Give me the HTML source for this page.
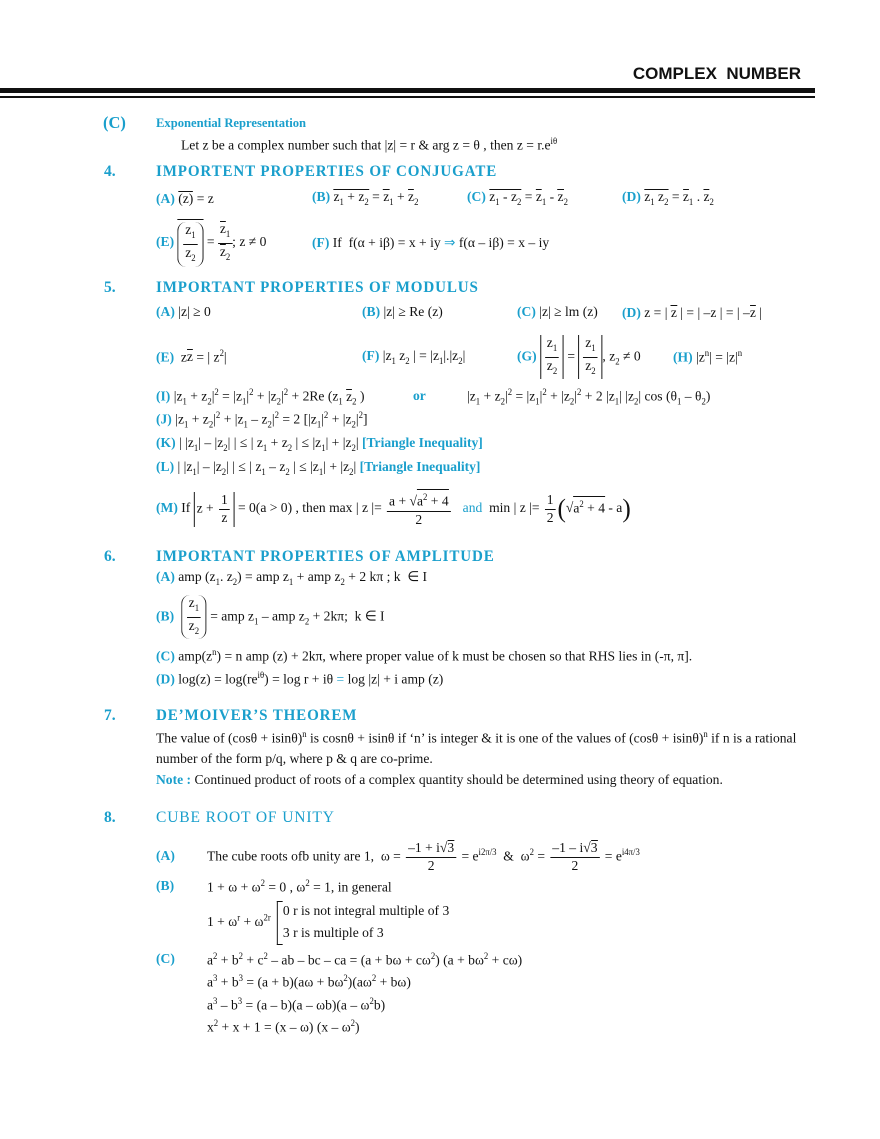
<!DOCTYPE html>
<html><head><meta charset="utf-8">
<style>
body{margin:0;width:880px;height:1139px;background:#fff;position:relative;overflow:hidden;font-family:"Liberation Serif",serif;color:#111}
.l{position:absolute;height:44px;margin-top:-22px;display:flex;align-items:center;white-space:nowrap;font-size:14px;transform:scaleX(.97);transform-origin:0 50%}
.c{color:#1a9fcc;font-weight:bold}
.cn{color:#1a9fcc}
.h{color:#1a9fcc;font-weight:bold;font-size:15.5px;letter-spacing:0.9px}
.n{font-weight:bold;font-size:16px;color:#1a9fcc}
.fr{display:inline-flex;flex-direction:column;vertical-align:middle;text-align:center;line-height:17px;margin:0 2px}
.fr>span:first-child{border-bottom:1px solid #111;padding:0 2px}
.ol{display:inline-block;border-top:1px solid #111;line-height:13px;padding-top:1px}
sub,sup{font-size:9px}
.par{display:inline-block;vertical-align:middle;border-left:1.3px solid #111;border-right:1.3px solid #111;border-radius:9px;padding:0 3px}
.abs{display:inline-block;vertical-align:middle;border-left:1px solid #111;border-right:1px solid #111;padding:0 2px}
</style></head><body>
<div style="position:absolute;right:79px;top:64px;font:bold 17px 'Liberation Sans',sans-serif">COMPLEX&nbsp; NUMBER</div>
<div style="position:absolute;left:0;top:88px;width:815px;height:5px;background:#111"></div>
<div style="position:absolute;left:0;top:96px;width:815px;height:1.5px;background:#111"></div>

<div class="l" style="top:123px;left:103px"><span class="n" style="font-size:17px">(C)</span></div>
<div class="l" style="top:123px;left:156px"><span class="c" style="font-size:13px">Exponential Representation</span></div>
<div class="l" style="top:145px;left:181px"><span>Let z be a complex number such that |z| = r &amp; arg z = θ , then z = r.e<sup>iθ</sup></span></div>

<div class="l" style="top:172px;left:104px"><span class="n">4.</span></div>
<div class="l" style="top:172px;left:156px"><span class="h">IMPORTENT PROPERTIES OF CONJUGATE</span></div>
<div class="l" style="top:199px;left:156px"><span><b class="cn">(A)</b> <span class="ol">(z)</span> = z</span></div>
<div class="l" style="top:199px;left:312px"><span><b class="cn">(B)</b> <span class="ol">z<sub>1</sub> + z<sub>2</sub></span> = <span class="ol">z</span><sub>1</sub> + <span class="ol">z</span><sub>2</sub></span></div>
<div class="l" style="top:199px;left:467px"><span><b class="cn">(C)</b> <span class="ol">z<sub>1</sub> - z<sub>2</sub></span> = <span class="ol">z</span><sub>1</sub> - <span class="ol">z</span><sub>2</sub></span></div>
<div class="l" style="top:199px;left:622px"><span><b class="cn">(D)</b> <span class="ol">z<sub>1</sub> z<sub>2</sub></span> = <span class="ol">z</span><sub>1</sub> . <span class="ol">z</span><sub>2</sub></span></div>
<div class="l" style="top:243px;left:156px"><span><b class="cn">(E)</b> <span style="display:inline-block;vertical-align:middle;border-top:1px solid #111;padding-top:2px"><span class="par"><span class="fr"><span>z<sub>1</sub></span><span>z<sub>2</sub></span></span></span></span> = <span class="fr" style="margin:0"><span><span class="ol">z</span><sub>1</sub></span><span><span class="ol">z</span><sub>2</sub></span></span>; z ≠ 0</span></div>
<div class="l" style="top:243px;left:312px"><span><b class="cn">(F)</b> If&nbsp; f(α + iβ) = x + iy <span class="cn">⇒</span> f(α – iβ) = x – iy</span></div>

<div class="l" style="top:288px;left:104px"><span class="n">5.</span></div>
<div class="l" style="top:288px;left:156px"><span class="h">IMPORTANT PROPERTIES OF MODULUS</span></div>
<div class="l" style="top:313px;left:156px"><span><b class="cn">(A)</b> |z| ≥ 0</span></div>
<div class="l" style="top:313px;left:362px"><span><b class="cn">(B)</b> |z| ≥ Re (z)</span></div>
<div class="l" style="top:313px;left:517px"><span><b class="cn">(C)</b> |z| ≥ lm (z)</span></div>
<div class="l" style="top:313px;left:622px"><span><b class="cn">(D)</b> z = | <span class="ol">z</span> | = | –z | = | –<span class="ol">z</span> |</span></div>
<div class="l" style="top:357px;left:156px"><span><b class="cn">(E)</b>&nbsp; z<span class="ol">z</span> = | z<sup>2</sup>|</span></div>
<div class="l" style="top:357px;left:362px"><span><b class="cn">(F)</b> |z<sub>1</sub> z<sub>2</sub> | = |z<sub>1</sub>|.|z<sub>2</sub>|</span></div>
<div class="l" style="top:357px;left:517px"><span><b class="cn">(G)</b> <span class="abs"><span class="fr"><span>z<sub>1</sub></span><span>z<sub>2</sub></span></span></span> = <span class="abs"><span class="fr"><span>z<sub>1</sub></span><span>z<sub>2</sub></span></span></span>, z<sub>2</sub> ≠ 0</span></div>
<div class="l" style="top:357px;left:673px"><span><b class="cn">(H)</b> |z<sup>n</sup>| = |z|<sup>n</sup></span></div>
<div class="l" style="top:397px;left:156px"><span><b class="cn">(I)</b> |z<sub>1</sub> + z<sub>2</sub>|<sup>2</sup> = |z<sub>1</sub>|<sup>2</sup> + |z<sub>2</sub>|<sup>2</sup> + 2Re (z<sub>1</sub> <span class="ol">z</span><sub>2</sub> )</span></div>
<div class="l" style="top:397px;left:413px"><span class="c">or</span></div>
<div class="l" style="top:397px;left:467px"><span>|z<sub>1</sub> + z<sub>2</sub>|<sup>2</sup> = |z<sub>1</sub>|<sup>2</sup> + |z<sub>2</sub>|<sup>2</sup> + 2 |z<sub>1</sub>| |z<sub>2</sub>| cos (θ<sub>1</sub> – θ<sub>2</sub>)</span></div>
<div class="l" style="top:420px;left:156px"><span><b class="cn">(J)</b> |z<sub>1</sub> + z<sub>2</sub>|<sup>2</sup> + |z<sub>1</sub> – z<sub>2</sub>|<sup>2</sup> = 2 [|z<sub>1</sub>|<sup>2</sup> + |z<sub>2</sub>|<sup>2</sup>]</span></div>
<div class="l" style="top:444px;left:156px"><span><b class="cn">(K)</b> | |z<sub>1</sub>| – |z<sub>2</sub>| | ≤ | z<sub>1</sub> + z<sub>2</sub> | ≤ |z<sub>1</sub>| + |z<sub>2</sub>| <b class="cn">[Triangle Inequality]</b></span></div>
<div class="l" style="top:468px;left:156px"><span><b class="cn">(L)</b> | |z<sub>1</sub>| – |z<sub>2</sub>| | ≤ | z<sub>1</sub> – z<sub>2</sub> | ≤ |z<sub>1</sub>| + |z<sub>2</sub>| <b class="cn">[Triangle Inequality]</b></span></div>
<div class="l" style="top:509px;left:156px"><span><b class="cn">(M)</b> If <span class="abs">z + <span class="fr"><span>1</span><span>z</span></span></span> = 0(a &gt; 0) , then max | z |= <span class="fr"><span>a + √<span class="ol">a<sup>2</sup> + 4</span></span><span>2</span></span> &nbsp; <span class="cn">and</span> &nbsp;min | z |= <span class="fr"><span>1</span><span>2</span></span><span style="font-size:26px;vertical-align:middle">(</span>√<span class="ol">a<sup>2</sup> + 4</span> - a<span style="font-size:26px;vertical-align:middle">)</span></span></div>

<div class="l" style="top:557px;left:104px"><span class="n">6.</span></div>
<div class="l" style="top:557px;left:156px"><span class="h">IMPORTANT PROPERTIES OF AMPLITUDE</span></div>
<div class="l" style="top:578px;left:156px"><span><b class="cn">(A)</b> amp (z<sub>1</sub>. z<sub>2</sub>) = amp z<sub>1</sub> + amp z<sub>2</sub> + 2 kπ ; k &nbsp;∈ I</span></div>
<div class="l" style="top:617px;left:156px"><span><b class="cn">(B)</b> &nbsp;<span class="par"><span class="fr"><span>z<sub>1</sub></span><span>z<sub>2</sub></span></span></span> = amp z<sub>1</sub> – amp z<sub>2</sub> + 2kπ;&nbsp; k ∈ I</span></div>
<div class="l" style="top:656px;left:156px"><span><b class="cn">(C)</b> amp(z<sup>n</sup>) = n amp (z) + 2kπ, where proper value of k must be chosen so that RHS lies in (-π, π].</span></div>
<div class="l" style="top:679px;left:156px"><span><b class="cn">(D)</b> log(z) = log(re<sup>iθ</sup>) = log r + iθ <span class="cn">=</span> log |z| + i amp (z)</span></div>

<div class="l" style="top:716px;left:104px"><span class="n">7.</span></div>
<div class="l" style="top:716px;left:156px"><span class="h">DE’MOIVER’S THEOREM</span></div>
<div class="l" style="top:738px;left:156px"><span>The value of (cosθ + isinθ)<sup>n</sup> is cosnθ + isinθ if ‘n’ is integer &amp; it is one of the values of (cosθ + isinθ)<sup>n</sup> if n is a rational</span></div>
<div class="l" style="top:760px;left:156px"><span>number of the form p/q, where p &amp; q are co-prime.</span></div>
<div class="l" style="top:781px;left:156px"><span><b class="cn">Note :</b> Continued product of roots of a complex quantity should be determined using theory of equation.</span></div>

<div class="l" style="top:818px;left:104px"><span class="n">8.</span></div>
<div class="l" style="top:818px;left:156px"><span class="h" style="font-weight:normal;font-size:16px">CUBE ROOT OF UNITY</span></div>
<div class="l" style="top:857px;left:156px"><span><b class="cn">(A)</b></span></div>
<div class="l" style="top:857px;left:207px"><span>The cube roots ofb unity are 1,&nbsp; ω = <span class="fr"><span>–1 + i√<span class="ol">3</span></span><span>2</span></span> = e<sup>i2π/3</sup> &nbsp;&amp;&nbsp; ω<sup>2</sup> = <span class="fr"><span>–1 – i√<span class="ol">3</span></span><span>2</span></span> = e<sup>i4π/3</sup></span></div>
<div class="l" style="top:887px;left:156px"><span><b class="cn">(B)</b></span></div>
<div class="l" style="top:887px;left:207px"><span>1 + ω + ω<sup>2</sup> = 0 , ω<sup>2</sup> = 1, in general</span></div>
<div class="l" style="top:923px;left:207px"><span>1 + ω<sup>r</sup> + ω<sup>2r</sup> <span style="display:inline-block;vertical-align:middle;width:5px;height:42px;border-left:1.3px solid #111;border-top:1.3px solid #111;border-bottom:1.3px solid #111;margin-left:3px"></span><span style="display:inline-block;vertical-align:middle;line-height:22px">0 r is not integral multiple of 3<br>3 r is multiple of 3</span></span></div>
<div class="l" style="top:960px;left:156px"><span><b class="cn">(C)</b></span></div>
<div class="l" style="top:960px;left:207px"><span>a<sup>2</sup> + b<sup>2</sup> + c<sup>2</sup> – ab – bc – ca = (a + bω + cω<sup>2</sup>) (a + bω<sup>2</sup> + cω)</span></div>
<div class="l" style="top:982px;left:207px"><span>a<sup>3</sup> + b<sup>3</sup> = (a + b)(aω + bω<sup>2</sup>)(aω<sup>2</sup> + bω)</span></div>
<div class="l" style="top:1005px;left:207px"><span>a<sup>3</sup> – b<sup>3</sup> = (a – b)(a – ωb)(a – ω<sup>2</sup>b)</span></div>
<div class="l" style="top:1027px;left:207px"><span>x<sup>2</sup> + x + 1 = (x – ω) (x – ω<sup>2</sup>)</span></div>
</body></html>
